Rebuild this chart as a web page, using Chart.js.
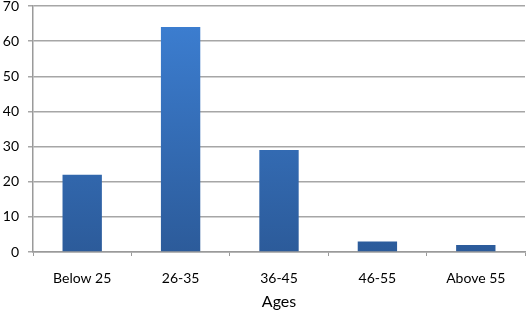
<!DOCTYPE html>
<html><head><meta charset="utf-8">
<script src="https://cdn.jsdelivr.net/npm/chart.js@4/dist/chart.umd.min.js"></script>
<style>html,body{margin:0;padding:0;background:#fff;}#wrap{width:528px;height:311px;}</style>
</head><body><div id="wrap"><canvas id="c" width="528" height="311"></canvas></div>
<script>
const categories = ["Below 25", "26-35", "36-45", "46-55", "Above 55"];
const values = [22, 64, 29, 3, 2];
const yTicks = [0, 10, 20, 30, 40, 50, 60, 70];
const xTitle = "Ages";

function grad(ctx) {
  const ch = ctx.chart, a = ch.chartArea;
  if (!a) return '#3a78c8';
  const g = ch.ctx.createLinearGradient(0, a.top, 0, a.bottom);
  g.addColorStop(0, '#3d80d4');
  g.addColorStop(1, '#2c5b9a');
  return g;
}

new Chart(document.getElementById('c'), {
  type: 'bar',
  data: { labels: categories, datasets: [{ data: values, backgroundColor: grad, categoryPercentage: 0.8, barPercentage: 0.5 }] },
  options: {
    responsive: false, animation: false, devicePixelRatio: 1,
    layout: { padding: { top: 6, right: 3, left: 0, bottom: 0 } },
    plugins: { legend: { display: false }, tooltip: { enabled: false } },
    scales: {
      x: {
        offset: true,
        grid: { offset: true, drawOnChartArea: false, drawTicks: true, tickLength: 4, color: '#9a9a9a', lineWidth: 1 },
        border: { color: '#9a9a9a', width: 1.5 },
        ticks: { color: '#000', font: { family: 'Lato, "Open Sans", sans-serif', size: 14 }, padding: 14, maxRotation: 0 },
        title: { display: true, text: xTitle, color: '#000', font: { family: 'Lato, "Open Sans", sans-serif', size: 16 }, padding: { top: 2, bottom: 0 } },
        afterFit: s => { s.height = 59; s.paddingLeft = 0; s.paddingRight = 0; }
      },
      y: {
        min: 0, max: 70,
        afterBuildTicks: s => { s.ticks = yTicks.map(v => ({ value: v })); },
        grid: { color: '#a6a6a6', lineWidth: 1.5, drawTicks: true, tickLength: 5 },
        border: { color: '#9a9a9a', width: 1.5 },
        ticks: { color: '#000', font: { family: 'Lato, "Open Sans", sans-serif', size: 14 }, padding: 9 },
        afterFit: s => { s.width = 33; s.paddingTop = 0; s.paddingBottom = 0; }
      }
    }
  }
});
</script></body></html>
